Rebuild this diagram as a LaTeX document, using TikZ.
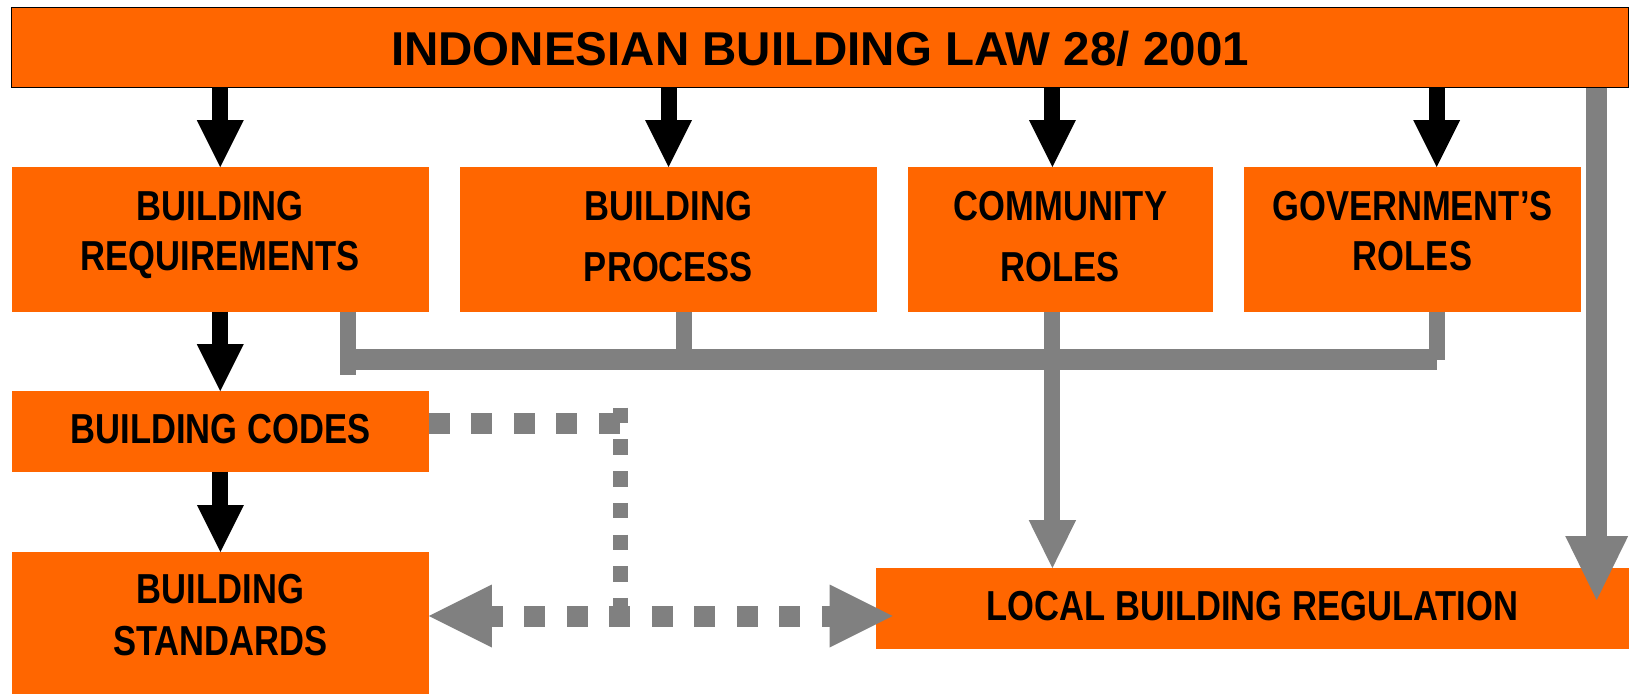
\documentclass[tikz,border=0pt]{standalone}
\usepackage{fontspec}
\setmainfont{Liberation Sans}
\newfontfamily\narrowfont[FakeStretch=0.825]{Liberation Sans}
\usetikzlibrary{arrows.meta,calc}
\definecolor{orng}{RGB}{255,102,0}
\definecolor{gry}{RGB}{128,128,128}
\begin{document}
\begin{tikzpicture}[x=1pt,y=-1pt,
  box/.style={rectangle, fill=orng, inner sep=0pt, outer sep=0pt, anchor=north west},
  lbl/.style={font=\narrowfont\bfseries\fontsize{41.9}{50}\selectfont, anchor=base, inner sep=0pt},
  ttl/.style={font=\bfseries\fontsize{47.5}{57}\selectfont, anchor=base, inner sep=0pt},
  blackarrow/.style={draw=black, line width=16pt, -{Triangle[width=47pt,length=47pt,line width=0pt]}},
  greyarrow/.style={draw=gry, line width=16pt, -{Triangle[width=47.5pt,length=48pt,line width=0pt]}},
  bigarrow/.style={draw=gry, line width=21pt, -{Triangle[width=63pt,length=64pt,line width=0pt]}},
  busthin/.style={draw=gry, line width=16pt},
  busthick/.style={draw=gry, line width=21pt},
  dotthick/.style={draw=gry, line width=21pt, dash pattern=on 21pt off 21.5pt},
  dotthin/.style={draw=gry, line width=15.6pt, dash pattern=on 15.6pt off 16.1pt},
  dotarrow/.style={draw=gry, line width=21pt, dash pattern=on 21pt off 21.5pt, dash phase=10pt,
    {Triangle[width=63pt,length=63pt,line width=0pt]}-{Triangle[width=63pt,length=63pt,line width=0pt]}}
]
\useasboundingbox (0,0) rectangle (1634,694);

% boxes
\node[box, draw=black, line width=1.5pt, minimum width=1617pt, minimum height=80.2pt] (law) at (11.5,7.3) {};
\node[box, minimum width=417.5pt, minimum height=144.7pt] (req) at (11.5,167) {};
\node[box, minimum width=417pt, minimum height=144.7pt] (proc) at (460,167) {};
\node[box, minimum width=305pt, minimum height=144.7pt] (comm) at (908,167) {};
\node[box, minimum width=337pt, minimum height=144.7pt] (gov) at (1244,167) {};
\node[box, minimum width=416.8pt, minimum height=80.7pt] (codes) at (12,391) {};
\node[box, minimum width=416.8pt, minimum height=142pt] (std) at (12,552) {};
\node[box, minimum width=753pt, minimum height=80.5pt] (lbr) at (876,568) {};

% texts
\node[ttl] (lawt) at (820,65) {INDONESIAN BUILDING LAW 28/ 2001};
\node[lbl] (reqa) at (220.2,220.3) {BUILDING};
\node[lbl] (reqb) at (220.2,270.7) {REQUIREMENTS};
\node[lbl] (proca) at (668.5,220.7) {BUILDING};
\node[lbl] (procb) at (668.5,281.7) {PROCESS};
\node[lbl] (comma) at (1060.5,220.7) {COMMUNITY};
\node[lbl] (commb) at (1060.5,281) {ROLES};
\node[lbl] (gova) at (1412.5,220.7) {GOVERNMENT’S};
\node[lbl] (govb) at (1412.5,270.7) {ROLES};
\node[lbl] (codest) at (220.4,443.3) {BUILDING CODES};
\node[lbl] (stda) at (220.4,603.3) {BUILDING};
\node[lbl] (stdb) at (220.4,655) {STANDARDS};
\node[lbl] (lbrt) at (1252.5,620) {LOCAL BUILDING REGULATION};

% helper coordinates
\coordinate (xa3) at (1052.4,0);
\coordinate (xa4) at (1436.7,0);
\coordinate (xb1) at (348.4,0);
\coordinate (xp) at (684,0);
\coordinate (xr) at (1596.7,0);
\coordinate (busy) at (0,359.8);
\coordinate (busend) at (348.4,375.3);
\coordinate (dotx) at (620.5,0);
\coordinate (dtop) at (620.5,407.7);
\coordinate (dbot) at (620.5,616);
\coordinate (dly) at (0,616);

% grey bus
\draw[busthin] (req.south -| xb1) -- (busend);
\draw[busthick] (xb1 |- busy) -- (xa4 |- busy);
\draw[busthin] (proc.south -| xp) -- (xp |- busy);
\draw[busthin] (gov.south -| xa4) -- (xa4 |- busy);
\draw[greyarrow] (comm.south -| xa3) -- (lbr.north -| xa3);
\draw[bigarrow] (law.south -| xr) -- ($(lbr.north -| xr)+(0,32)$);

% black arrows
\draw[blackarrow] (law.south -| req.north) -- (req.north);
\draw[blackarrow] (law.south -| proc.north) -- (proc.north);
\draw[blackarrow] (law.south -| xa3) -- (comm.north -| xa3);
\draw[blackarrow] (law.south -| xa4) -- (gov.north -| xa4);
\draw[blackarrow] (req.south) -- (req.south |- codes.north);
\draw[blackarrow] (codes.south) -- (std.north);

% dotted connectors
\draw[dotthick] ($(codes.east)+(0,-7.5)$) coordinate (d1) -- (d1 -| dotx);
\draw[dotthin] (dtop) -- (dbot);
\draw[dotarrow] (std.east |- dly) -- ($(lbr.west |- dly)+(16.6,0)$);
\end{tikzpicture}
\end{document}
